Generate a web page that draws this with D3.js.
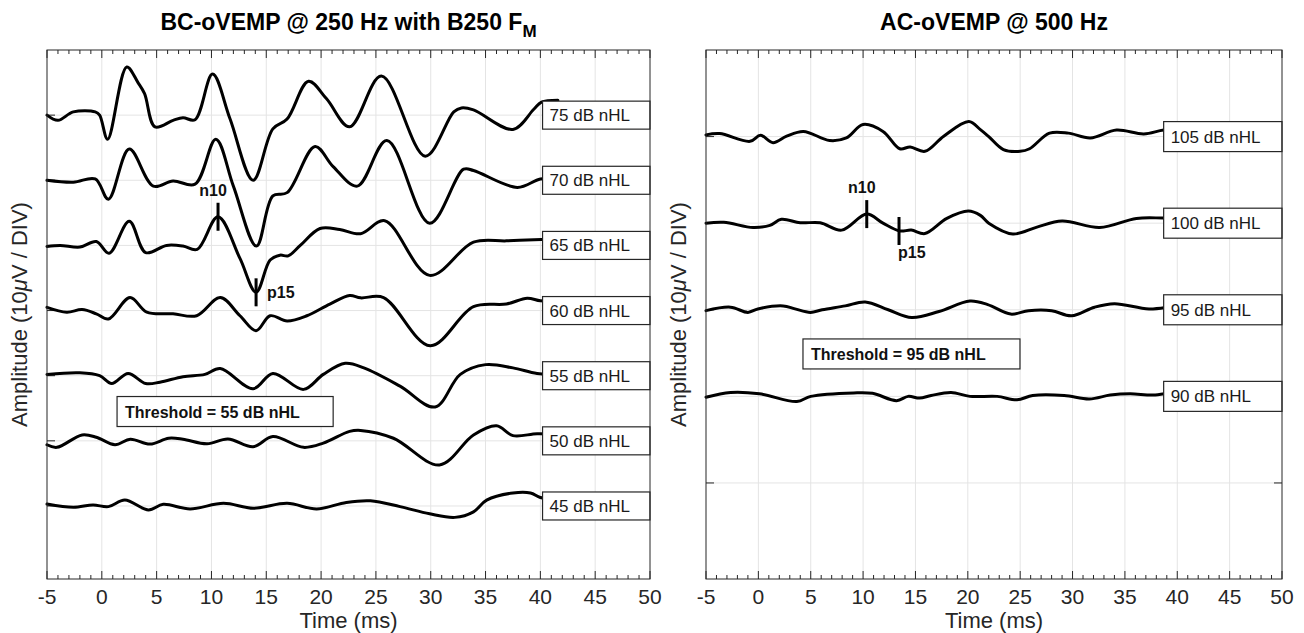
<!DOCTYPE html>
<html lang="en">
<head>
<meta charset="UTF-8">
<title>oVEMP waveforms</title>
<style>
  body { margin: 0; background: #fff; }
  svg { font-family: "Liberation Sans", Arial, Helvetica, sans-serif; }
  .grid line { stroke: #e4e4e4; stroke-width: 1; }
  .frame { fill: none; stroke: #262626; stroke-width: 1; }
  .tk { stroke: #262626; stroke-width: 1; }
  .trace { fill: none; stroke: #000; stroke-width: 3; stroke-linejoin: round; stroke-linecap: round; }
  .tag rect { fill: #fff; stroke: #262626; stroke-width: 1.2; }
  .tag text { font-size: 17px; fill: #1a1a1a; }
  .thresh rect { fill: #fff; stroke: #262626; stroke-width: 1.2; }
  .thresh text { font-size: 16px; font-weight: bold; fill: #111; }
  .ticklabel { font-size: 21px; fill: #262626; }
  .axtitle { font-size: 22px; fill: #262626; }
  .title { font-size: 23px; font-weight: bold; fill: #000; }
  .peak { stroke: #000; stroke-width: 3; }
  .peaklabel { font-size: 16px; font-weight: bold; fill: #111; }
</style>
</head>
<body>
<script src="https://cdn.jsdelivr.net/npm/d3@7"></script>
<script>
// waveforms as [time (ms), amplitude (uV)]
const bc75 = [[-5,0],[-4,-0.8],[-2.6,0.5],[-0.6,0.5],[-0.2,0],[0.53,-3.7],[2.27,7.4],[3.3,5.0],[3.9,3.3],[4.85,-1.8],[6.5,-0.8],[7.4,-0.4],[8.5,-0.7],[10.1,6.3],[11.7,-0.6],[13.8,-10.0],[15.6,-2.1],[16.9,-0.6],[18.85,5.2],[20.5,2.5],[22.6,-1.8],[25.5,6.0],[29.5,-6.3],[32.1,0.5],[32.8,1.1],[33.9,0.8],[37.5,-2.2],[39.4,0.9],[40.1,2.0],[41.6,2.3]]
const bc70 = [[-5,0],[-2.6,-0.3],[-0.6,0.2],[0.6,-2.9],[2.5,4.8],[4.7,-0.9],[6.5,-0.1],[8.5,-0.6],[10.4,6.3],[12,-0.9],[14.1,-10.1],[15.6,-2.4],[16.9,-1.9],[19.45,5.2],[21.1,2.1],[23.3,-0.9],[26,6.1],[29.9,-6.6],[33,1.7],[33.9,1.5],[37.9,-1.1],[40,0.2],[41.6,0.3]]
const bc65 = [[-5,-0.15],[-3.8,0],[-2,-0.25],[-0.5,0.6],[0.66,-1.2],[2.5,3.7],[4.0,-1.1],[5.9,0],[7.4,-0.1],[8.7,-0.6],[10.6,4.4],[12.6,-2.0],[14.07,-7.2],[15.35,-2.25],[16.25,-1.5],[17.0,-1.6],[18.1,0],[19.9,2.6],[21.7,2.45],[23.6,1.8],[25.8,3.8],[29.9,-4.6],[33.9,0.5],[36.9,0.7],[40.1,0.9],[41.6,1.0]]
const bc60 = [[-5,0.5],[-3.2,-0.25],[-1.8,0.15],[-0.5,-0.5],[0.6,-1.3],[2.57,2.0],[4.1,-0.25],[6.5,-0.5],[8.65,-0.8],[10.8,2.0],[12.6,-0.8],[14.07,-3.1],[15.35,-0.8],[16.9,-1.6],[18.7,-0.8],[20.8,1.0],[22.6,2.3],[23.6,1.95],[25.7,2.0],[29.95,-5.4],[33.9,0.6],[36.9,1.0],[38.8,1.9],[40,1.5],[41.6,1.5]]
const bc55 = [[-5,0.2],[-2,0.45],[-0.2,0],[0.9,-1.2],[2.4,0.35],[4.0,-1.2],[5.3,-1.0],[7.4,-0.15],[9.4,0.2],[10.8,1.1],[13.8,-2.0],[15.6,0.35],[18.4,-2.1],[20.2,0.2],[22.2,1.9],[23.9,1.2],[27.2,-1.6],[30.4,-4.8],[32.7,0.2],[35,1.7],[37.5,1.2],[39.7,0.35],[41.6,0.3]]
const bc50 = [[-5,-0.6],[-4.1,-1.0],[-1.8,0.9],[-0.5,0.55],[1.2,-0.6],[2.6,0.25],[4.4,-0.5],[6.1,0.4],[7.4,0.25],[9.6,-0.45],[11.5,0.3],[13.8,-0.9],[15.6,0.65],[18.4,-1.0],[20.2,-0.35],[22.6,1.45],[23.6,1.6],[26.6,0.4],[30.8,-3.7],[33.9,0.9],[36,2.3],[37.5,0.8],[39.7,1.1],[41.6,1.0]]
const bc45 = [[-5,0.3],[-2.6,-0.2],[-0.8,0.15],[0.6,-0.1],[2.1,0.9],[4.25,-0.6],[5.6,0.25],[8.05,-0.45],[11.1,0.4],[13.8,-0.35],[16.9,0.4],[19.6,-0.45],[22.3,0.55],[24.5,0.8],[27.2,-0.1],[29.9,-1.2],[32.2,-1.75],[33.9,-0.9],[35.1,0.9],[37.5,2.0],[39.1,2.0],[40,1.3],[41.6,1.0]]

const ac105 = [[-5,0.2],[-3.7,0.35],[-0.8,-0.55],[0.2,0.15],[1.4,-0.7],[2.7,0.05],[4.3,0.6],[6.8,-0.45],[8.4,-0.15],[10,1.4],[11.9,0.6],[13.5,-1.4],[14.5,-1.2],[15.9,-1.7],[17.7,0.05],[20.1,1.75],[21.2,0.8],[22,0],[23.4,-1.5],[25,-1.7],[25.9,-1.4],[27.8,0.4],[29.6,0.4],[31.7,-0.15],[34.2,0.75],[36.8,0.3],[38.7,0.75],[40.5,0.8]]
const ac100 = [[-5,0],[-3.3,0.1],[-0.5,-0.5],[1.1,-0.25],[2.2,0.45],[4,0.05],[5.9,0.05],[7.95,-0.8],[10.35,1.05],[11.9,0],[13.5,-0.9],[14.6,-0.8],[15.9,-1.2],[18,0.55],[20.05,1.4],[21.2,0.9],[22,0],[24.3,-1.25],[26.6,-0.45],[29,0.25],[32.6,-0.5],[36.1,0.55],[38.7,0.6],[40.5,0.6]]
const ac95 = [[-5,-0.1],[-2.66,0.3],[-1,-0.3],[-0.05,0.1],[2.37,0.45],[3.5,0.1],[4.97,-0.3],[6.1,0],[8.3,0.45],[10.2,0.9],[12.4,0],[14.65,-0.9],[17.25,-0.2],[20.2,1.0],[21.9,0.6],[24.1,-0.5],[25.8,-0.1],[28,-0.1],[29.9,-0.7],[32.1,0.3],[34,0.7],[37.3,0.1],[39.8,0.4],[41,0.4]]
const ac90 = [[-5,-0.1],[-2.66,0.45],[0.1,0.3],[3.67,-0.6],[5,0],[9.1,0.4],[10.9,0.35],[13.2,-0.5],[14.3,0],[15.4,-0.2],[16.5,0.1],[18.4,0.45],[20.2,0],[22.8,0],[24.7,-0.4],[26.2,0.1],[29.2,0.1],[31.6,-0.3],[33.6,0.15],[35.5,0.3],[37.7,0.15],[39.6,0.45],[41,0.45]]

const bcLevels = ['75 dB nHL', '70 dB nHL', '65 dB nHL', '60 dB nHL', '55 dB nHL', '50 dB nHL', '45 dB nHL']
const acLevels = ['105 dB nHL', '100 dB nHL', '95 dB nHL', '90 dB nHL']

// peak markers: [label, trace index, time ms, amplitude uV]
const bcPeaks = [['n10', 2, 10.6, 4.4], ['p15', 2, 14.07, -7.2]]
const acPeaks = [['n10', 1, 10.35, 1.05], ['p15', 1, 13.43, -0.9]]

const xTicks = [-5, 0, 5, 10, 15, 20, 25, 30, 35, 40, 45, 50]

const W = 1304, H = 633
const svg = d3.select('body').append('svg').attr('width', W).attr('height', H)

function panel (cfg) {
  const g = svg.append('g')
  const x = d3.scaleLinear().domain([-5, 50]).range([cfg.left, cfg.right])
  const y = d3.scaleLinear().domain(cfg.yDomain).range([cfg.bottom, cfg.top])
  const yTicks = d3.range(1, cfg.traces.length + cfg.extra + 1)

  // grid
  const grid = g.append('g').attr('class', 'grid')
  grid.selectAll('.gx').data(xTicks.slice(1, -1)).enter().append('line')
    .attr('x1', d => x(d)).attr('x2', d => x(d)).attr('y1', cfg.top).attr('y2', cfg.bottom)
  grid.selectAll('.gy').data(yTicks).enter().append('line')
    .attr('x1', cfg.left).attr('x2', cfg.right).attr('y1', d => y(d)).attr('y2', d => y(d))

  // ticks, pointing inward, on all four sides
  const minor = d3.range(-5, 51, 1)
  const tk = g.append('g')
  minor.forEach(t => {
    const len = t % 5 === 0 ? 8 : 4
    tk.append('line').attr('class', 'tk').attr('x1', x(t)).attr('x2', x(t)).attr('y1', cfg.bottom).attr('y2', cfg.bottom - len)
    tk.append('line').attr('class', 'tk').attr('x1', x(t)).attr('x2', x(t)).attr('y1', cfg.top).attr('y2', cfg.top + len)
  })
  yTicks.forEach(v => {
    tk.append('line').attr('class', 'tk').attr('x1', cfg.left).attr('x2', cfg.left + 8).attr('y1', y(v)).attr('y2', y(v))
    tk.append('line').attr('class', 'tk').attr('x1', cfg.right).attr('x2', cfg.right - 8).attr('y1', y(v)).attr('y2', y(v))
  })

  // traces, top one sits on the highest grid line
  const n = cfg.traces.length
  cfg.traces.forEach((tr, i) => {
    const level = n + cfg.extra - i
    const line = d3.line()
      .x(d => x(d[0]))
      .y(d => y(level + d[1] / 10))
      .curve(d3.curveCatmullRom.alpha(0.5))
    g.append('path').attr('class', 'trace').attr('d', line(tr))
  })

  // peak markers
  cfg.peaks.forEach(([name, idx, t, v]) => {
    const level = n + cfg.extra - idx
    const px = x(t), py = y(level + v / 10)
    g.append('line').attr('class', 'peak').attr('x1', px).attr('x2', px).attr('y1', py - 14).attr('y2', py + 14)
    const lab = g.append('text').attr('class', 'peaklabel').text(name)
    if (name === 'n10') {
      lab.attr('x', px - 5).attr('y', py - 21).attr('text-anchor', 'middle')
    } else if (cfg.p15Below) {
      lab.attr('x', px - 1).attr('y', py + 27)
    } else {
      lab.attr('x', px + 11).attr('y', py + 6)
    }
  })

  // level tags on the right edge
  cfg.levels.forEach((name, i) => {
    const level = n + cfg.extra - i
    const tg = g.append('g').attr('class', 'tag')
    tg.append('rect').attr('x', x(cfg.tagFrom)).attr('y', y(level) - cfg.tagH / 2)
      .attr('width', cfg.right - x(cfg.tagFrom)).attr('height', cfg.tagH)
    tg.append('text').attr('x', x(cfg.tagFrom) + 7).attr('y', y(level) + 6).text(name)
  })

  // threshold box
  const th = g.append('g').attr('class', 'thresh')
  th.append('rect').attr('x', x(cfg.thresh.t0)).attr('y', y(cfg.thresh.v) - 15)
    .attr('width', x(cfg.thresh.t1) - x(cfg.thresh.t0)).attr('height', 30)
  th.append('text').attr('x', x(cfg.thresh.t0) + 8).attr('y', y(cfg.thresh.v) + 6).text(cfg.thresh.text)

  // frame
  g.append('rect').attr('class', 'frame').attr('x', cfg.left).attr('y', cfg.top)
    .attr('width', cfg.right - cfg.left).attr('height', cfg.bottom - cfg.top)

  // x tick labels
  g.selectAll('.xl').data(xTicks).enter().append('text')
    .attr('class', 'ticklabel').attr('text-anchor', 'middle')
    .attr('x', d => x(d)).attr('y', cfg.bottom + 25).text(d => d)

  g.append('text').attr('class', 'axtitle').attr('text-anchor', 'middle')
    .attr('x', (cfg.left + cfg.right) / 2).attr('y', cfg.bottom + 49).text('Time (ms)')

  const yl = g.append('text').attr('class', 'axtitle').attr('text-anchor', 'middle')
    .attr('transform', `translate(${cfg.left - 20},${(cfg.top + cfg.bottom) / 2}) rotate(-90)`)
  yl.append('tspan').text('Amplitude (10')
  yl.append('tspan').attr('font-style', 'italic').text('\u03bc')
  yl.append('tspan').text('V / DIV)')

  const tt = g.append('text').attr('class', 'title').attr('text-anchor', 'middle')
    .attr('x', (cfg.left + cfg.right) / 2).attr('y', 30)
  tt.append('tspan').text(cfg.title)
  if (cfg.sub) tt.append('tspan').attr('dy', 7).attr('font-size', 17).text(cfg.sub)
}

panel({
  left: 47, right: 650, top: 50, bottom: 579,
  yDomain: [-0.121, 8], extra: 0,
  traces: [bc75, bc70, bc65, bc60, bc55, bc50, bc45],
  levels: bcLevels, peaks: bcPeaks, p15Below: false,
  tagFrom: 40.2, tagH: 28,
  thresh: { t0: 1.39, t1: 21.1, v: 2.45, text: 'Threshold = 55 dB nHL' },
  title: 'BC-oVEMP @ 250 Hz with B250 F', sub: 'M'
})

panel({
  left: 706, right: 1282, top: 50, bottom: 579,
  yDomain: [-0.109, 6], extra: 1,
  traces: [ac105, ac100, ac95, ac90],
  levels: acLevels, peaks: acPeaks, p15Below: true,
  tagFrom: 38.7, tagH: 30,
  thresh: { t0: 4.26, t1: 24.98, v: 2.49, text: 'Threshold = 95 dB nHL' },
  title: 'AC-oVEMP @ 500 Hz', sub: null
})
</script>
</body>
</html>
